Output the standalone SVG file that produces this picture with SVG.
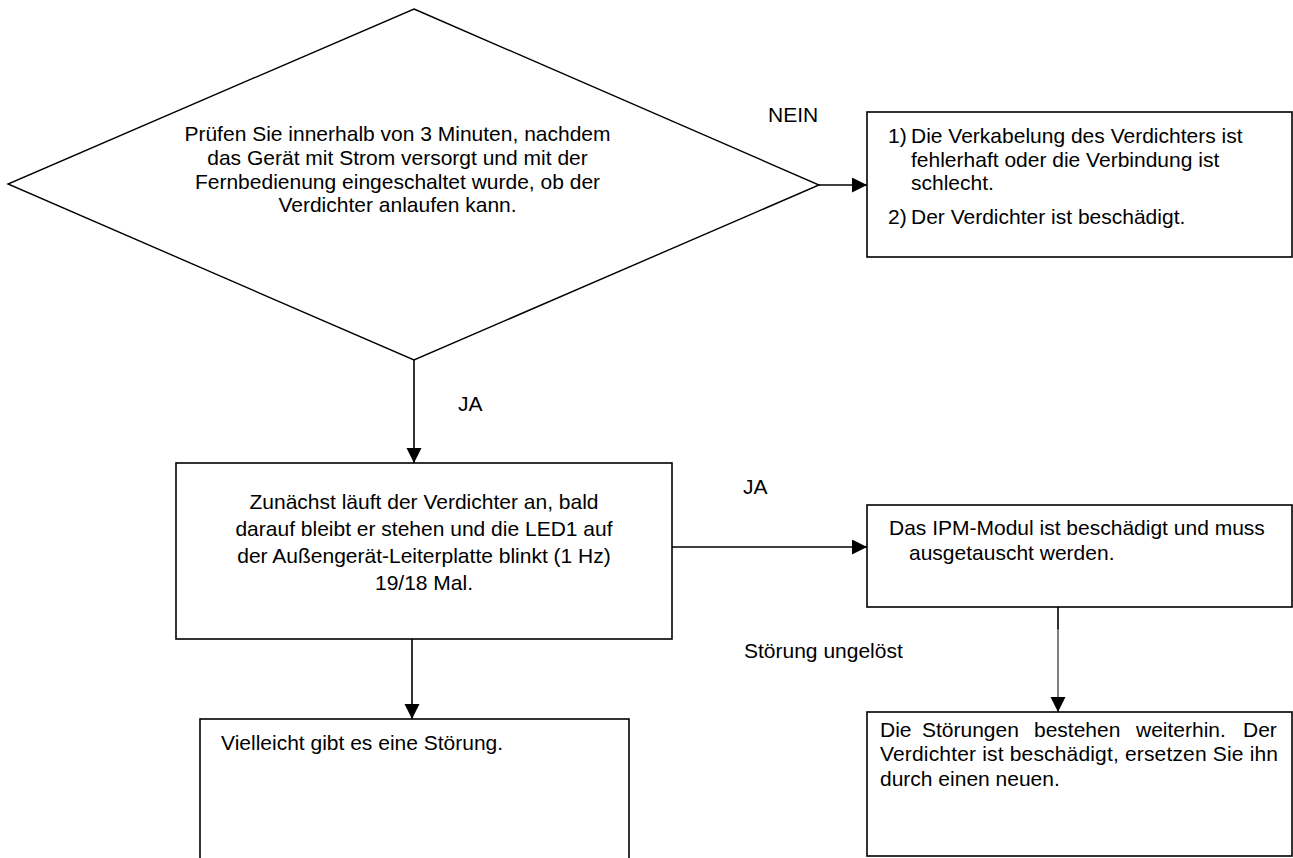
<svg xmlns="http://www.w3.org/2000/svg" width="1293" height="858" viewBox="0 0 1293 858">
<defs>
<marker id="arr" markerUnits="userSpaceOnUse" markerWidth="16" markerHeight="16" refX="15" refY="7.5" orient="auto">
<path d="M0,0 L15,7.5 L0,15 Z" fill="#000"/>
</marker>
<style>
.box{fill:#fff;stroke:#000;stroke-width:1.6}
.dia{fill:#fff;stroke:#000;stroke-width:1.4}
.con{fill:none;stroke:#000;stroke-width:1.6}
.thin{fill:none;stroke:#000;stroke-width:1}
text{font-family:"Liberation Sans",Arial,sans-serif;font-size:21px;fill:#000}
.c{text-anchor:middle}
</style>
</defs>
<rect width="1293" height="858" fill="#fff"/>

<g id="connectors">
<line class="con" x1="819" y1="185" x2="867" y2="185" marker-end="url(#arr)"/>
<line class="con" x1="414" y1="360" x2="414" y2="463" marker-end="url(#arr)"/>
<line class="con" x1="672" y1="547" x2="867" y2="547" marker-end="url(#arr)"/>
<line class="con" x1="412" y1="639" x2="412" y2="719" marker-end="url(#arr)"/>
<line class="con" x1="1058" y1="607" x2="1058" y2="629"/>
<line class="thin" x1="1058" y1="628" x2="1058" y2="712" marker-end="url(#arr)"/>
<text x="768" y="122">NEIN</text>
<text x="458" y="411">JA</text>
<text x="743" y="494">JA</text>
<text x="744" y="658">Störung ungelöst</text>
</g>

<g id="decision">
<polygon class="dia" points="414,9 819,185 414,360 8,184"/>
<text class="c" x="397.5" y="141">Prüfen Sie innerhalb von 3 Minuten, nachdem</text>
<text class="c" x="397.5" y="165">das Gerät mit Strom versorgt und mit der</text>
<text class="c" x="397.5" y="188.5">Fernbedienung eingeschaltet wurde, ob der</text>
<text class="c" x="397.5" y="212">Verdichter anlaufen kann.</text>
</g>

<g id="nein-box">
<rect class="box" x="867" y="112" width="425" height="145"/>
<text x="888" y="143">1)</text>
<text x="911" y="143">Die Verkabelung des Verdichters ist</text>
<text x="911" y="167">fehlerhaft oder die Verbindung ist</text>
<text x="911" y="190">schlecht.</text>
<text x="888" y="224">2)</text>
<text x="911" y="224">Der Verdichter ist beschädigt.</text>
</g>

<g id="blink-box">
<rect class="box" x="176" y="463" width="496" height="176"/>
<text class="c" x="424" y="509">Zunächst läuft der Verdichter an, bald</text>
<text class="c" x="424" y="536">darauf bleibt er stehen und die LED1 auf</text>
<text class="c" x="424" y="563">der Außengerät-Leiterplatte blinkt (1 Hz)</text>
<text class="c" x="424" y="589.5">19/18 Mal.</text>
</g>

<g id="ipm-box">
<rect class="box" x="867" y="505" width="425" height="102"/>
<text x="889" y="535">Das IPM-Modul ist beschädigt und muss</text>
<text x="909" y="560">ausgetauscht werden.</text>
</g>

<g id="fault-box">
<rect class="box" x="200" y="719" width="429" height="160"/>
<text x="221" y="750">Vielleicht gibt es eine Störung.</text>
</g>

<g id="compressor-box">
<rect class="box" x="867" y="712" width="425" height="144"/>
<text x="880" y="737">Die</text>
<text x="922" y="737">Störungen</text>
<text x="1034" y="737">bestehen</text>
<text x="1136" y="737">weiterhin.</text>
<text x="1243" y="737">Der</text>
<text x="880" y="761" textLength="398" lengthAdjust="spacing">Verdichter ist beschädigt, ersetzen Sie ihn</text>
<text x="880" y="786">durch einen neuen.</text>
</g>
</svg>
